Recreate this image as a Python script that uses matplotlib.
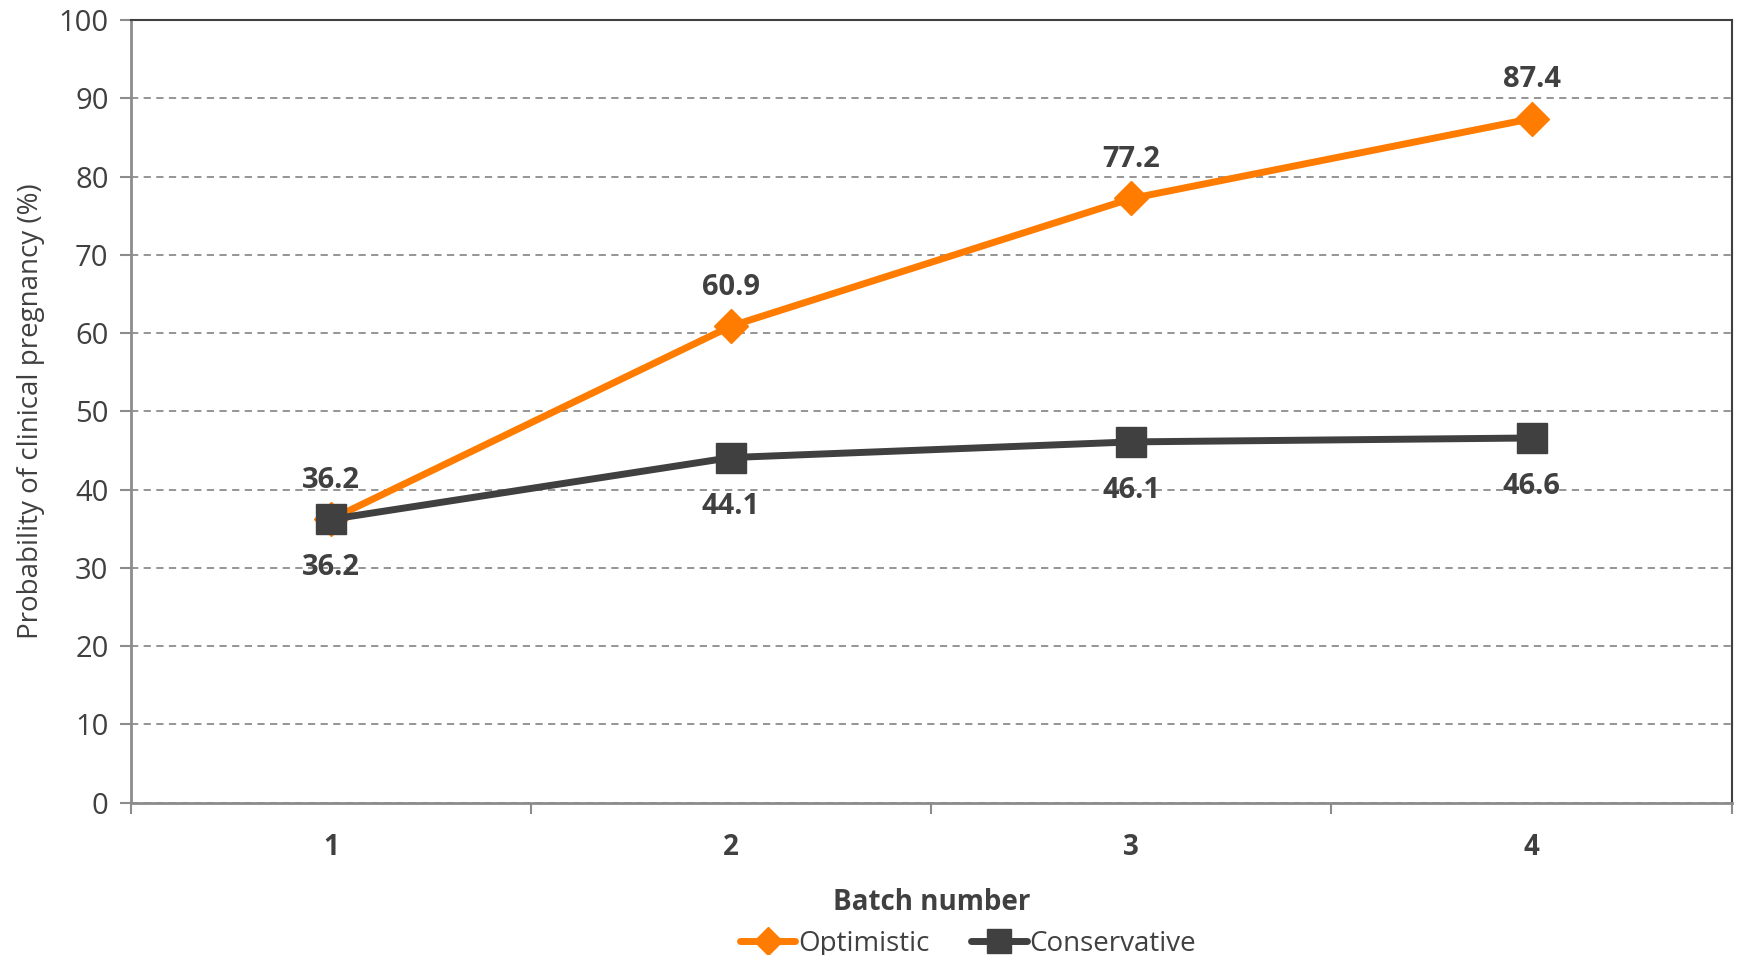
import matplotlib.pyplot as plt
import numpy as np

plt.rcParams['font.family'] = ['Open Sans', 'DejaVu Sans']

batches = [1, 2, 3, 4]
batch_labels = ['1', '2', '3', '4']
optimistic = [36.2, 60.9, 77.2, 87.4]
conservative = [36.2, 44.1, 46.1, 46.6]

ORANGE = '#FF7C00'
DARK = '#404040'
GRID = '#8C8C8C'

fig = plt.figure(figsize=(17.39, 9.55), dpi=100)
ax = fig.add_axes([0.0752, 0.1595, 0.9206, 0.8195])

ax.plot(batches, optimistic, color=ORANGE, lw=5, marker='D', ms=17,
        label='Optimistic', zorder=3, solid_capstyle='round')
ax.plot(batches, conservative, color=DARK, lw=5, marker='s', ms=21,
        label='Conservative', zorder=4, solid_capstyle='round')

# etichette dei valori
for x, v in zip(batches, optimistic):
    ax.annotate(f'{v:.1f}', (x, v), xytext=(0, 28), textcoords='offset points',
                ha='center', va='center', fontsize=21, fontweight='bold', color=DARK)
for x, v in zip(batches, conservative):
    ax.annotate(f'{v:.1f}', (x, v), xytext=(0, -35), textcoords='offset points',
                ha='center', va='center', fontsize=21, fontweight='bold', color=DARK)

ax.set_xlim(0.5, 4.5)
ax.set_ylim(0, 100)
ax.set_yticks(np.arange(0, 101, 10))
ax.set_xticks(batches)
ax.set_xticklabels(batch_labels, fontweight='bold', fontsize=20, color=DARK)
ax.set_xticks(np.arange(0.5, 4.6, 1), minor=True)
ax.tick_params(axis='x', which='major', length=0, pad=22)
ax.tick_params(axis='x', which='minor', length=8, width=1.5, color=GRID, direction='out')
ax.tick_params(axis='y', length=8, width=1.5, color=GRID, labelsize=21, labelcolor=DARK, pad=8)

ax.yaxis.grid(True, ls=(0, (4, 3)), color=GRID, lw=1.3)
ax.set_axisbelow(True)

for s in ['left', 'bottom']:
    ax.spines[s].set_color(GRID)
    ax.spines[s].set_linewidth(2)
for s in ['top', 'right']:
    ax.spines[s].set_color(DARK)
    ax.spines[s].set_linewidth(1.5)

ax.set_xlabel('Batch number', fontsize=20, fontweight='bold', color=DARK, va='center')
ax.xaxis.set_label_coords(0.5, -0.128)
ax.set_ylabel('Probability of clinical pregnancy (%)', fontsize=20, color=DARK, labelpad=10)

ax.legend(loc='center', bbox_to_anchor=(0.523, -0.180), ncol=2, frameon=False,
          fontsize=20, handlelength=2.0, handletextpad=0.1, columnspacing=1.5,
          markerscale=0.85, labelcolor=DARK, borderpad=0.1)

fig.savefig('out.png', dpi=100)
